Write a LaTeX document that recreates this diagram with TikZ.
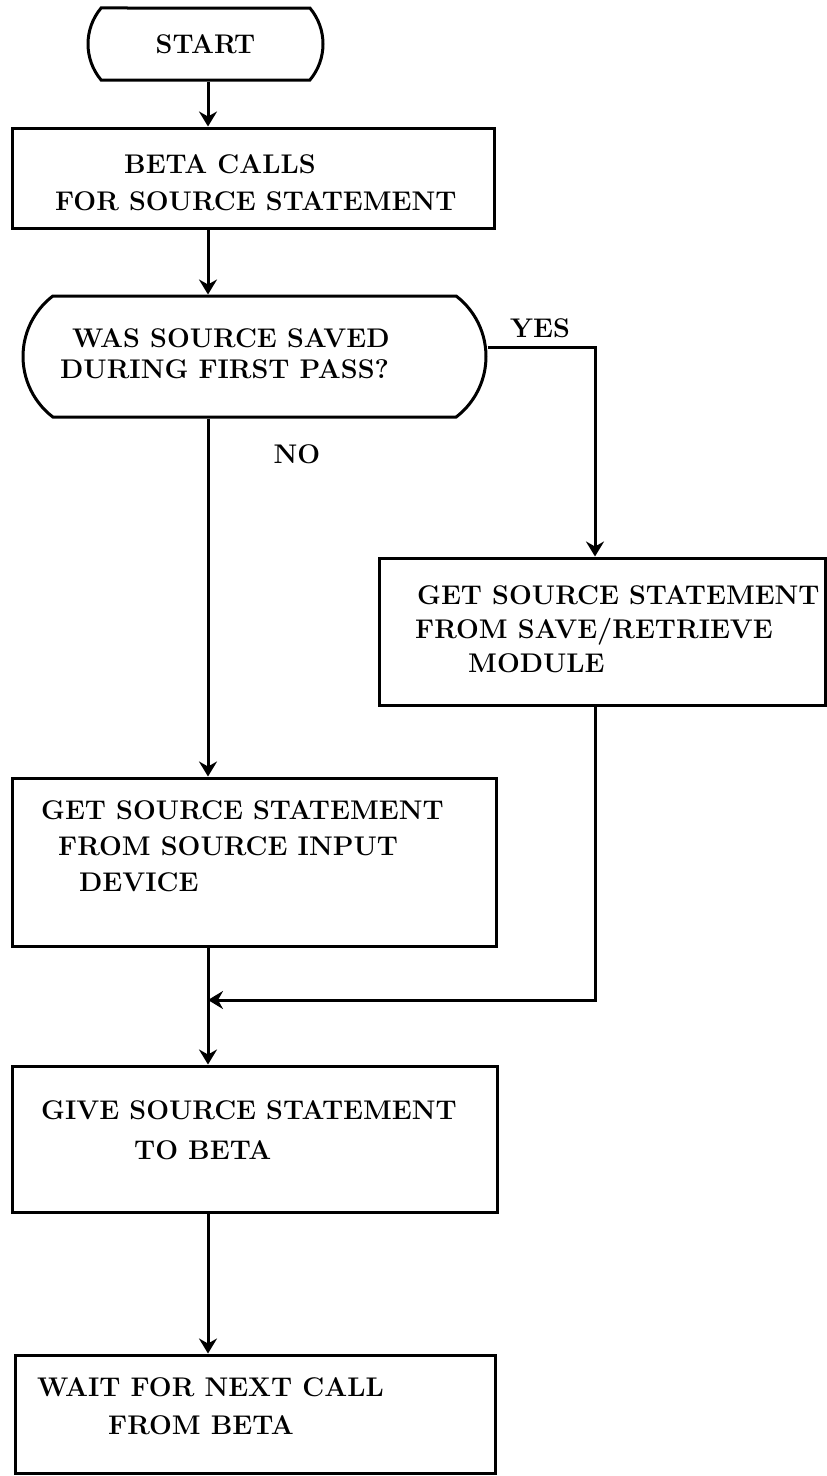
\documentclass[tikz,border=0pt]{standalone}
\usetikzlibrary{shapes.misc}
\usetikzlibrary{arrows.meta}
\tikzstyle{FlowLine}=[line width=3pt,-{Stealth[length=15pt,width=18pt,inset=5pt]}]
\tikzstyle{ProcBox}=[rectangle,draw,line width=3pt,inner sep=0pt]
\tikzstyle{TermBox}=[rounded rectangle,draw,line width=3pt,inner sep=0pt]
\tikzstyle{BoxText}=[anchor=north west,align=left,inner sep=0pt,
font=\fontsize{27}{37}\selectfont\bfseries]
\tikzstyle{LabelText}=[inner sep=0pt,font=\fontsize{27}{30}\selectfont\bfseries]

\begin{document}
\begin{tikzpicture}[x=1pt,y=-1pt]
        \useasboundingbox (0,0) rectangle (827,1476);
        \coordinate (col) at (208,0);
        \coordinate (merge) at (208,1000);
        % boxes
        \node[TermBox,minimum width=235pt,minimum height=72pt,rounded rectangle arc length=80,
        font=\fontsize{27}{30}\selectfont\bfseries](start)at(205.5,44){START};
        \node[ProcBox,minimum width=482pt,minimum height=100pt](beta)at(253,178){};
        \node[TermBox,minimum width=463pt,minimum height=121pt,rounded rectangle arc length=105](dec)at(254.5,356.5){};
        \node[ProcBox,minimum width=446pt,minimum height=147pt](save)at(602,631.5){};
        \node[ProcBox,minimum width=484pt,minimum height=168pt](input)at(254,862){};
        \node[ProcBox,minimum width=485pt,minimum height=146pt](give)at(254.5,1139){};
        \node[ProcBox,minimum width=480pt,minimum height=118pt](wait)at(255,1414){};
        % texts
        \node[BoxText](betatext)at(55,154){\hspace*{69pt}BETA CALLS\\FOR SOURCE STATEMENT};
        \node[BoxText,font=\fontsize{27}{31}\selectfont\bfseries](dectext)at(60,328){\hspace*{12pt}WAS SOURCE SAVED\\DURING FIRST PASS?};
        \node[BoxText,font=\fontsize{27}{34}\selectfont\bfseries](savetext)at(415,585){\hspace*{2pt}GET SOURCE STATEMENT\\FROM SAVE/RETRIEVE\\\hspace*{53pt}MODULE};
        \node[BoxText,font=\fontsize{27}{36}\selectfont\bfseries](inputtext)at(41,800){GET SOURCE STATEMENT\\\hspace*{17pt}FROM SOURCE INPUT\\\hspace*{38pt}DEVICE};
        \node[BoxText,font=\fontsize{27}{40}\selectfont\bfseries](givetext)at(41,1100){GIVE SOURCE STATEMENT\\\hspace*{93pt}TO BETA};
        \node[BoxText,font=\fontsize{27}{38}\selectfont\bfseries](waittext)at(37,1377){WAIT FOR NEXT CALL\\\hspace*{71pt}FROM BETA};
        \node[LabelText](yes)at(540,328){YES};
        \node[LabelText](no)at(297,454){NO};
        % connectors
        \draw[FlowLine](start.south -| col)--(beta.north -| col);
        \draw[FlowLine](beta.south -| col)--(dec.north -| col);
        \draw[FlowLine](dec.south -| col)--(input.north -| col);
        \draw[FlowLine]([yshift=9.5pt]dec.east)-|([xshift=-7pt]save.north);
        \draw[FlowLine]([xshift=-7pt]save.south)|-(merge);
        \draw[FlowLine](input.south -| col)--(give.north -| col);
        \draw[FlowLine](give.south -| col)--(wait.north -| col);
    \end{tikzpicture}
\end{document}
